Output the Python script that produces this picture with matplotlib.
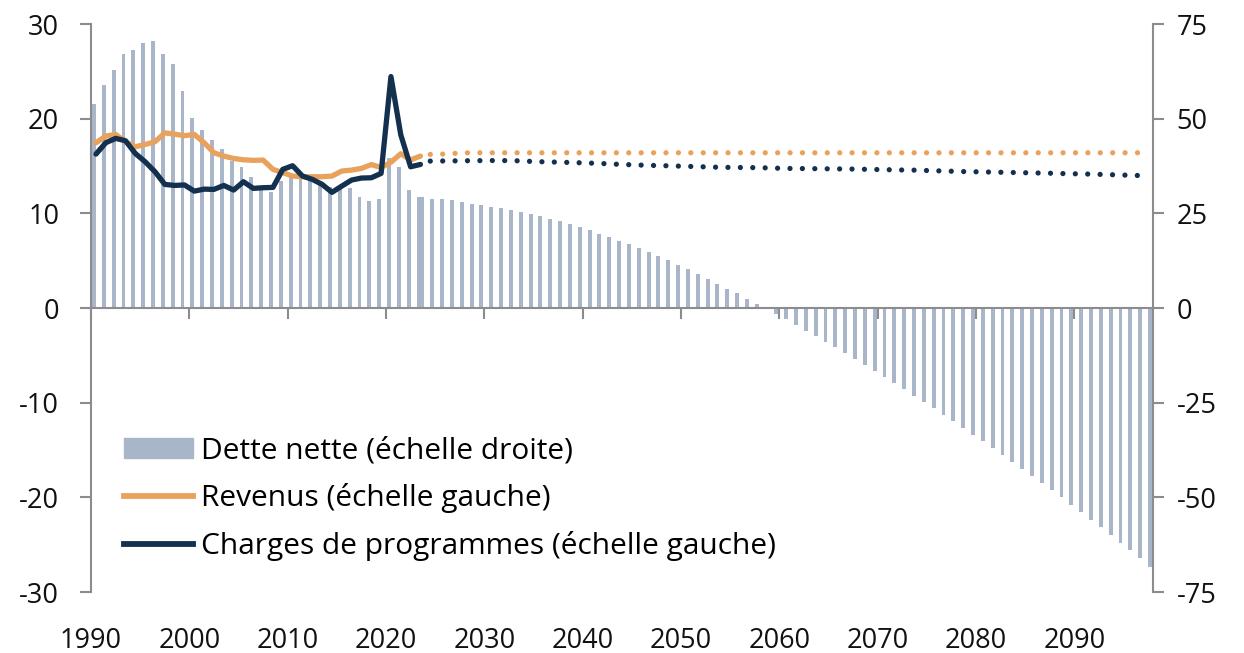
import numpy as np
import matplotlib
matplotlib.use("Agg")
import matplotlib.pyplot as plt
from matplotlib.patches import Patch
from matplotlib.lines import Line2D

plt.rcParams['font.family'] = ['Open Sans', 'DejaVu Sans']
plt.rcParams['axes.unicode_minus'] = False

# historical years 1990-2023
years_hist = np.arange(1990, 2024)
# net debt, % (right scale)
debt_hist = [53.8, 58.9, 62.8, 67.1, 68.2, 70.0, 70.4, 67.2, 64.4, 57.4,
             50.1, 46.9, 44.3, 42.0, 38.8, 37.3, 34.7, 31.2, 30.6, 33.6,
             35.1, 34.6, 33.8, 32.9, 32.0, 31.4, 31.8, 29.4, 28.2, 28.7,
             39.5, 37.3, 31.2, 29.2]
# revenues, % (left scale)
revenue_hist = [17.46, 18.16, 18.34, 17.56, 17.03, 17.28, 17.56, 18.50, 18.37, 18.20,
                18.34, 17.46, 16.40, 16.05, 15.80, 15.66, 15.60, 15.63, 14.65, 14.30,
                13.94, 13.87, 13.87, 13.87, 13.94, 14.47, 14.57, 14.75, 15.15, 14.85,
                15.40, 16.30, 15.65, 16.05]
# program expenses, % (left scale)
expense_hist = [16.26, 17.46, 17.92, 17.67, 16.33, 15.45, 14.40, 13.06, 12.95, 13.00,
                12.35, 12.56, 12.53, 12.95, 12.46, 13.34, 12.64, 12.71, 12.74, 14.65,
                15.03, 13.94, 13.59, 13.06, 12.22, 12.88, 13.52, 13.73, 13.76, 14.22,
                24.45, 18.30, 14.92, 15.17]

# projected debt 2023-2097
years_debt_proj = np.arange(2023, 2098)
debt_proj = [29.2, 28.8, 28.8, 28.5, 28.0, 27.6, 27.2, 26.8, 26.3, 25.9,
             25.3, 24.8, 24.2, 23.6, 22.9, 22.2, 21.4, 20.5, 19.6, 18.7,
             17.7, 16.8, 15.8, 14.7, 13.7, 12.6, 11.4, 10.2, 9.0, 7.7,
             6.4, 5.1, 3.9, 2.5, 1.0, -0.3, -1.5, -3.0, -4.5, -6.0,
             -7.4, -8.9, -10.4, -11.9, -13.5, -15.1, -16.6, -18.2, -19.8, -21.5,
             -23.2, -24.8, -26.5, -28.3, -29.9, -31.7, -33.5, -35.2, -37.0, -38.7,
             -40.6, -42.4, -44.3, -46.1, -48.1, -50.0, -51.9, -53.9, -55.9, -57.9,
             -60.0, -62.0, -64.0, -66.1, -68.3]

# projected lines 2024-2097
years_proj = np.arange(2024, 2098)
revenue_proj = [16.23, 16.25, 16.30, 16.37, 16.40, 16.40, 16.40, 16.40, 16.40, 16.40,
                16.40, 16.40, 16.40, 16.40, 16.40, 16.40, 16.40, 16.40, 16.40, 16.40,
                16.40, 16.40, 16.40, 16.40, 16.40, 16.40, 16.40, 16.40, 16.40, 16.40,
                16.40, 16.40, 16.40, 16.40, 16.40, 16.40, 16.40, 16.40, 16.40, 16.40,
                16.40, 16.40, 16.40, 16.40, 16.40, 16.40, 16.40, 16.40, 16.40, 16.40,
                16.40, 16.40, 16.40, 16.40, 16.40, 16.40, 16.40, 16.40, 16.40, 16.40,
                16.40, 16.40, 16.40, 16.40, 16.40, 16.40, 16.40, 16.40, 16.40, 16.40,
                16.40, 16.40, 16.40, 16.40]
expense_proj = [15.52, 15.53, 15.54, 15.55, 15.56, 15.57, 15.58, 15.58, 15.57, 15.55,
                15.50, 15.46, 15.43, 15.41, 15.38, 15.35, 15.32, 15.28, 15.24, 15.19,
                15.15, 15.11, 15.08, 15.05, 15.03, 15.00, 14.97, 14.94, 14.91, 14.88,
                14.86, 14.85, 14.84, 14.83, 14.81, 14.78, 14.75, 14.74, 14.73, 14.72,
                14.71, 14.70, 14.69, 14.68, 14.66, 14.64, 14.62, 14.60, 14.58, 14.57,
                14.54, 14.51, 14.48, 14.45, 14.42, 14.40, 14.38, 14.36, 14.34, 14.32,
                14.30, 14.28, 14.26, 14.24, 14.21, 14.19, 14.17, 14.15, 14.12, 14.09,
                14.06, 14.03, 14.00, 13.97]

labels = ["Dette nette (échelle droite)", "Revenus (échelle gauche)",
          "Charges de programmes (échelle gauche)"]

bar_col = '#A9B5C9'
orange = '#E8A25C'
navy = '#13304F'
grey = '#8C8C8C'
fs = 19.5
lfs = 21.5
lw = 3.8
dots = (0, (0.001, 2.35))

fig = plt.figure(figsize=(12.44, 6.53), dpi=100)
ax = fig.add_axes([0.0732, 0.0934, 0.8536, 0.8698])
ax2 = ax.twinx()
ax.set_zorder(ax2.get_zorder() + 1)
ax.patch.set_visible(False)

ax2.bar(years_hist + 0.3, debt_hist, width=0.4, color=bar_col, linewidth=0)
ax2.bar(years_debt_proj + 0.7, debt_proj, width=0.4, color=bar_col, linewidth=0)

ax.plot(years_hist + 0.5, revenue_hist, color=orange, lw=lw, solid_capstyle='round')
ax.plot(years_hist + 0.5, expense_hist, color=navy, lw=lw, solid_capstyle='round')
ax.plot(years_proj + 0.5, revenue_proj, color=orange, lw=lw, ls=dots, dash_capstyle='round')
ax.plot(years_proj + 0.5, expense_proj, color=navy, lw=lw, ls=dots, dash_capstyle='round')

for a in (ax, ax2):
    a.set_xlim(1990, 2098)
    for s in a.spines.values():
        s.set_color(grey)
        s.set_linewidth(1.5)
    a.spines['top'].set_visible(False)

ax.set_ylim(-30, 30)
ax2.set_ylim(-75, 75)
ax.spines['right'].set_visible(False)
ax.spines['bottom'].set_position(('data', 0))
ax2.spines['left'].set_visible(False)
ax2.spines['bottom'].set_visible(False)

ax.set_yticks(range(-30, 31, 10))
ax2.set_yticks(range(-75, 76, 25))
ax.tick_params(axis='y', direction='out', length=8, width=1.5, color=grey,
               pad=15, labelsize=fs, labelcolor='#111111')
ax2.tick_params(axis='y', direction='out', length=8, width=1.5, color=grey,
                pad=9, labelsize=fs, labelcolor='#111111')
ax2.tick_params(axis='x', bottom=False, labelbottom=False)

xt = list(range(1990, 2091, 10))
ax.set_xticks(xt)
ax.tick_params(axis='x', direction='out', length=8, width=1.5, color=grey,
               labelbottom=False)

sec = ax.secondary_xaxis('bottom')
sec.set_xticks(xt)
sec.tick_params(length=0, pad=25, labelsize=fs, labelcolor='#111111')
sec.spines['bottom'].set_visible(False)

handles = [Patch(color=bar_col),
           Line2D([], [], color=orange, lw=lw + 0.4),
           Line2D([], [], color=navy, lw=lw + 0.4)]
ax.legend(handles, labels, loc='center left', bbox_to_anchor=(0.031, 0.164),
          frameon=False, fontsize=lfs, handlelength=2.3, handleheight=0.65,
          handletextpad=0.27, labelspacing=0.6, borderpad=0, borderaxespad=0)

fig.savefig('out.png', dpi=100)
